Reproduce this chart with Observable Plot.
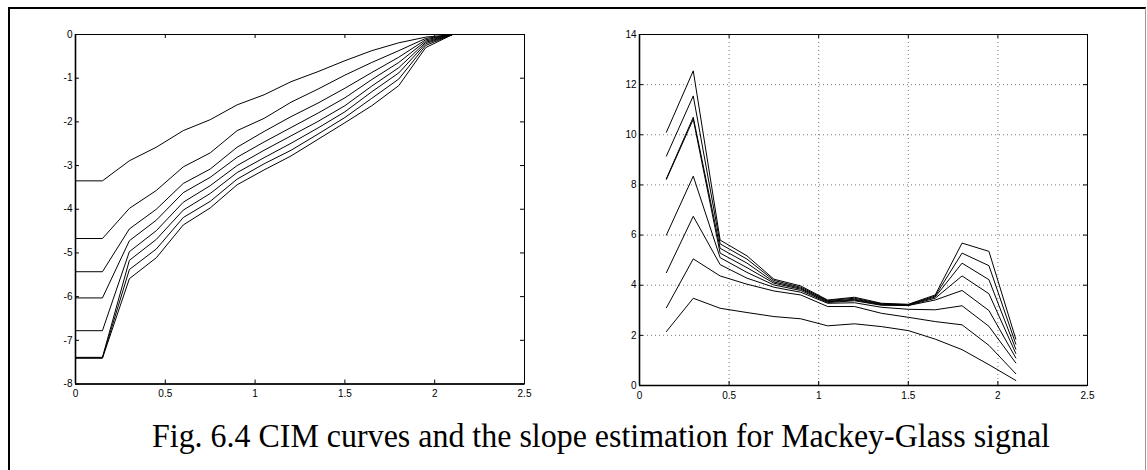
<!DOCTYPE html>
<html><head><meta charset="utf-8">
<script src="https://cdn.jsdelivr.net/npm/d3@7"></script>
<script src="https://cdn.jsdelivr.net/npm/@observablehq/plot@0.6"></script>
<style>
html,body{margin:0;padding:0;background:#fff;}
#fig{position:relative;width:1147px;height:470px;overflow:hidden;background:#fff;}
#border{position:absolute;left:8px;top:7px;width:1138px;height:490px;border-left:2px solid #000;border-top:2px solid #000;border-right:1px solid #999;box-sizing:border-box;}
#left{position:absolute;left:0;top:0;}
#right{position:absolute;left:560px;top:0;}
#caption{position:absolute;left:0;top:405px;}
</style></head><body>
<div id="fig">
  <div id="border"></div>
  <div id="left"></div>
  <div id="right"></div>
  <svg id="caption" width="1147" height="60"><text id="captext" x="152" y="42" font-family="'Liberation Serif','Times New Roman',serif" font-size="33" fill="#000" textLength="898" lengthAdjust="spacingAndGlyphs"></text></svg>
</div>
<script>
// ---- Left panel: CIM curves ----
const xLeft = [0, 0.15, 0.3, 0.45, 0.6, 0.75, 0.9, 1.05, 1.2, 1.35, 1.5, 1.65, 1.8, 1.95, 2.1, 2.25];
const cim1 = [-3.35,-3.35,-2.89,-2.58,-2.2,-1.95,-1.61,-1.38,-1.08,-0.85,-0.6,-0.37,-0.19,-0.06,0,0];
const cim2 = [-4.67,-4.67,-3.98,-3.57,-3.03,-2.71,-2.2,-1.92,-1.55,-1.25,-0.93,-0.64,-0.37,-0.09,0,0];
const cim3 = [-5.43,-5.43,-4.45,-4.0,-3.41,-3.08,-2.58,-2.22,-1.88,-1.57,-1.23,-0.87,-0.52,-0.12,0,0];
const cim4 = [-6.03,-6.03,-4.72,-4.25,-3.62,-3.27,-2.81,-2.46,-2.13,-1.8,-1.45,-1.03,-0.64,-0.15,0,0];
const cim5 = [-6.78,-6.78,-4.97,-4.49,-3.84,-3.46,-3.0,-2.65,-2.32,-1.99,-1.63,-1.18,-0.76,-0.18,0,0];
const cim6 = [-7.39,-7.39,-5.17,-4.69,-4.02,-3.64,-3.16,-2.82,-2.49,-2.14,-1.77,-1.31,-0.88,-0.21,0,0];
const cim7 = [-7.4,-7.4,-5.38,-4.91,-4.19,-3.82,-3.31,-2.96,-2.65,-2.28,-1.9,-1.46,-1.02,-0.25,0,0];
const cim8 = [-7.41,-7.41,-5.59,-5.11,-4.36,-3.97,-3.44,-3.1,-2.78,-2.4,-2.02,-1.63,-1.17,-0.3,0,0];

// ---- Right panel: slope estimation ----
const xRight = [0.15, 0.3, 0.45, 0.6, 0.75, 0.9, 1.05, 1.2, 1.35, 1.5, 1.65, 1.8, 1.95, 2.1];
const slope1 = [10.1, 12.55, 5.8, 5.17, 4.24, 3.97, 3.41, 3.52, 3.28, 3.24, 3.61, 5.68, 5.35, 1.85];
const slope2 = [9.15, 11.55, 5.65, 5.04, 4.19, 3.92, 3.39, 3.48, 3.26, 3.22, 3.57, 5.28, 4.78, 1.65];
const slope3 = [8.25, 10.7, 5.47, 4.88, 4.13, 3.88, 3.36, 3.44, 3.24, 3.21, 3.53, 4.88, 4.22, 1.45];
const slope4 = [8.22, 10.62, 5.28, 4.7, 4.08, 3.84, 3.34, 3.41, 3.22, 3.2, 3.48, 4.37, 3.66, 1.28];
const slope5 = [6.0, 8.35, 5.1, 4.51, 4.01, 3.79, 3.31, 3.38, 3.2, 3.19, 3.41, 3.79, 2.99, 1.1];
const slope6 = [4.5, 6.75, 4.82, 4.28, 3.92, 3.72, 3.28, 3.3, 3.12, 3.04, 3.02, 3.18, 2.36, 0.9];
const slope7 = [3.1, 5.05, 4.37, 4.04, 3.77, 3.61, 3.15, 3.15, 2.88, 2.72, 2.55, 2.42, 1.6, 0.47];
const slope8 = [2.15, 3.48, 3.08, 2.91, 2.75, 2.66, 2.38, 2.46, 2.35, 2.19, 1.85, 1.43, 0.83, 0.2];

// ---- ticks ----
const xTicks = [0, 0.5, 1, 1.5, 2, 2.5];
const yTicksLeft = [0, -1, -2, -3, -4, -5, -6, -7, -8];
const yTicksRight = [0, 2, 4, 6, 8, 10, 12, 14];

const captionText = "Fig. 6.4 CIM curves and the slope estimation for Mackey-Glass signal";

function toRows(xs, seriesList) {
  const rows = [];
  seriesList.forEach((ys, i) => ys.forEach((y, j) => rows.push({series: i, x: xs[j], y})));
  return rows;
}

function panel({rows, width, height, mL, mR, mT, mB, xDomain, yDomain, yTicks, grid}) {
  const plotW = width - mL - mR, plotH = height - mT - mB;
  const marks = [];
  if (grid) {
    marks.push(Plot.gridX(xTicks, {stroke: "#777", strokeOpacity: 1, strokeWidth: 1, strokeDasharray: "1,3"}));
    marks.push(Plot.gridY(yTicks, {stroke: "#777", strokeOpacity: 1, strokeWidth: 1, strokeDasharray: "1,3"}));
  }
  marks.push(Plot.line(rows, {x: "x", y: "y", z: "series", stroke: "#000", strokeWidth: 1}));
  marks.push(Plot.tickX(xTicks, {x: d => d, insetTop: plotH - 4, stroke: "#000"}));
  marks.push(Plot.tickX(xTicks, {x: d => d, insetBottom: plotH - 4, stroke: "#000"}));
  marks.push(Plot.tickY(yTicks, {y: d => d, insetRight: plotW - 4, stroke: "#000"}));
  marks.push(Plot.tickY(yTicks, {y: d => d, insetLeft: plotW - 4, stroke: "#000"}));
  marks.push(Plot.frame({stroke: "#000", strokeWidth: 1}));
  marks.push(Plot.ruleX([xDomain[0]], {stroke: "#000", strokeWidth: 1.6}));
  marks.push(Plot.ruleY([yDomain[0]], {stroke: "#000", strokeWidth: 1.6}));
  marks.push(Plot.axisX(xTicks, {tickSize: 0, tickPadding: 6, tickFormat: d => String(d), label: null, fill: "#000"}));
  marks.push(Plot.axisY(yTicks, {tickSize: 0, tickPadding: 3, tickFormat: d => String(d), label: null, fill: "#000"}));
  return Plot.plot({
    width, height,
    marginLeft: mL, marginRight: mR, marginTop: mT, marginBottom: mB,
    x: {domain: xDomain, label: null},
    y: {domain: yDomain, label: null},
    style: {fontFamily: "'Liberation Sans', Arial, sans-serif", fontSize: "10px", background: "transparent", color: "#000"},
    marks
  });
}

document.getElementById("left").append(panel({
  rows: toRows(xLeft, [cim1, cim2, cim3, cim4, cim5, cim6, cim7, cim8]),
  width: 560, height: 410, mL: 75, mR: 36, mT: 34, mB: 26.5,
  xDomain: [0, 2.5], yDomain: [-8, 0], yTicks: yTicksLeft, grid: false
}));

document.getElementById("right").append(panel({
  rows: toRows(xRight, [slope1, slope2, slope3, slope4, slope5, slope6, slope7, slope8]),
  width: 587, height: 410, mL: 79, mR: 60, mT: 34, mB: 25,
  xDomain: [0, 2.5], yDomain: [0, 14], yTicks: yTicksRight, grid: true
}));

document.getElementById("captext").textContent = captionText;
</script>
</body></html>
